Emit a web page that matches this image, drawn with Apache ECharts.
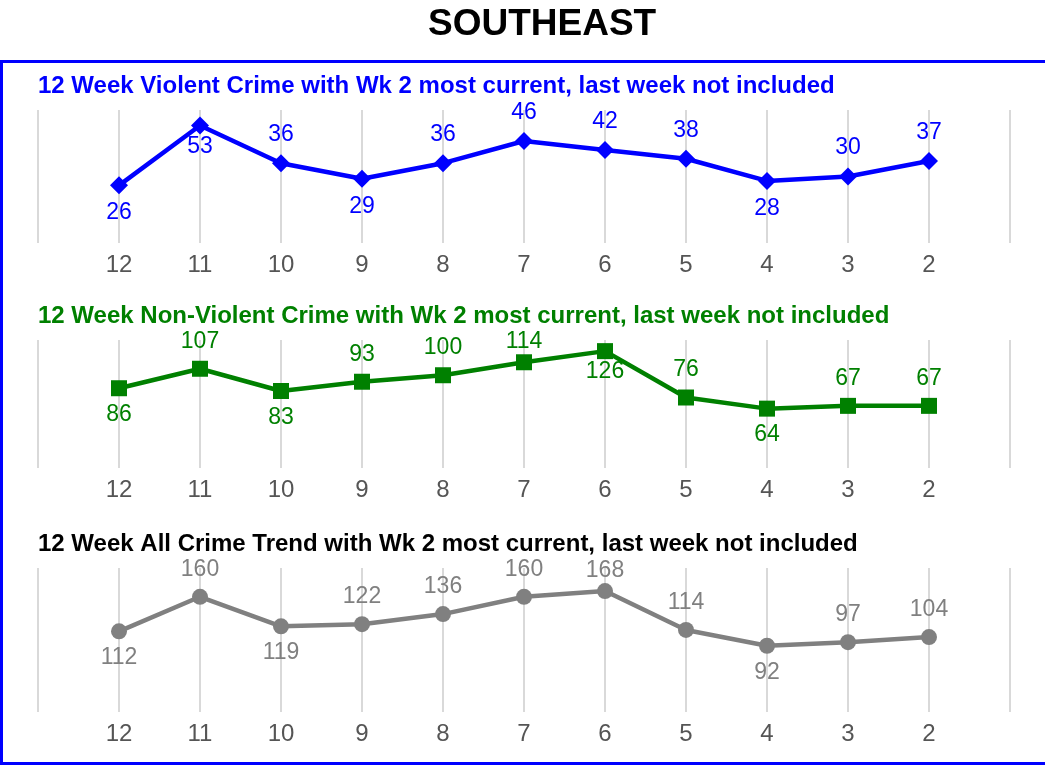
<!DOCTYPE html>
<html>
<head>
<meta charset="utf-8">
<script src="https://cdn.jsdelivr.net/npm/echarts@6/dist/echarts.min.js"></script>
<style>
  html, body { margin: 0; padding: 0; background: #fff; }
  #main { width: 1045px; height: 767px; }
</style>
</head>
<body>
<div id="main"></div>
<script>
// week numbers, oldest first
const weeks = ['12', '11', '10', '9', '8', '7', '6', '5', '4', '3', '2']
const violent = [26, 53, 36, 29, 36, 46, 42, 38, 28, 30, 37]
const nonViolent = [86, 107, 83, 93, 100, 114, 126, 76, 64, 67, 67]
const allCrime = [112, 160, 119, 122, 136, 160, 168, 114, 92, 97, 104]

// which side each value label sits on (t = above, b = below, capitals = squeezed close to the mark)
const violentSide = ['b', 'B', 't', 'b', 't', 't', 't', 't', 'b', 't', 't']
const nonViolentSide = ['b', 't', 'b', 't', 't', 'T', 'B', 't', 'b', 't', 't']
const allSide = ['b', 't', 'b', 't', 't', 't', 'T', 't', 'b', 't', 't']

const titles = [
  '12 Week Violent Crime with Wk 2 most current, last week not included',
  '12 Week Non-Violent Crime with Wk 2 most current, last week not included',
  '12 Week All Crime Trend with Wk 2 most current, last week not included',
]

// empty slot at each end so the grid has a spare line on both sides
const cats = [''].concat(weeks, [''])

const chart = echarts.init(document.getElementById('main'))

const FONT = 'Liberation Sans'

const panels = [
  { top: 110, height: 133, max: 60, color: '#0000ff', symbol: 'diamond', size: 18, data: violent, side: violentSide, titleY: 86, titleColor: '#0000ff' },
  { top: 340, height: 128, max: 138, color: '#008000', symbol: 'rect', size: 16, data: nonViolent, side: nonViolentSide, titleY: 316, titleColor: '#008000' },
  { top: 568, height: 144, max: 200, color: '#808080', symbol: 'circle', size: 16, data: allCrime, side: allSide, titleY: 544, titleColor: '#000000' },
]

const sideStyle = {
  t: { position: 'top', distance: 8 },
  b: { position: 'bottom', distance: 7 },
  T: { position: 'top', distance: 1 },
  B: { position: 'bottom', distance: 1 },
}

const buildSeries = (p, i) => {
  const pts = p.data.map((v, k) => ({
    value: v,
    label: sideStyle[p.side[k]],
  }))
  return {
    type: 'line',
    xAxisIndex: i,
    yAxisIndex: i,
    data: [null].concat(pts, [null]),
    symbol: p.symbol,
    symbolSize: p.size,
    lineStyle: { color: p.color, width: 4.5 },
    itemStyle: { color: p.color },
    label: {
      show: true,
      color: p.color,
      fontSize: 23,
      fontFamily: FONT,
    },
    animation: false,
  }
}

const option = {
  backgroundColor: '#fff',
  title: [{
    text: 'SOUTHEAST',
    left: 428,
    top: 6,
    padding: 0,
    textStyle: { fontSize: 37, fontWeight: 'bold', color: '#000', fontFamily: FONT },
  }].concat(panels.map((p, i) => ({
    text: titles[i],
    left: 38,
    top: p.titleY - 12,
    padding: 0,
    textStyle: { fontSize: 24, fontWeight: 'bold', color: p.titleColor, fontFamily: FONT },
  }))),
  graphic: [{
    type: 'rect',
    shape: { x: 1.5, y: 61.5, width: 1080, height: 702 },
    style: { fill: 'none', stroke: '#0000ff', lineWidth: 3 },
    silent: true,
  }],
  grid: panels.map((p) => ({ left: 38, right: 35, top: p.top, height: p.height })),
  xAxis: panels.map((p, i) => ({
    type: 'category',
    gridIndex: i,
    data: cats,
    boundaryGap: false,
    axisLine: { show: false },
    axisTick: { show: false },
    axisLabel: { color: '#555555', fontSize: 24, margin: 10, fontFamily: FONT, interval: 0 },
    splitLine: { show: true, lineStyle: { color: '#d9d9d9', width: 2 } },
  })),
  yAxis: panels.map((p, i) => ({
    type: 'value',
    gridIndex: i,
    min: 0,
    max: p.max,
    show: false,
  })),
  series: panels.map(buildSeries),
}

chart.setOption(option)
</script>
</body>
</html>
